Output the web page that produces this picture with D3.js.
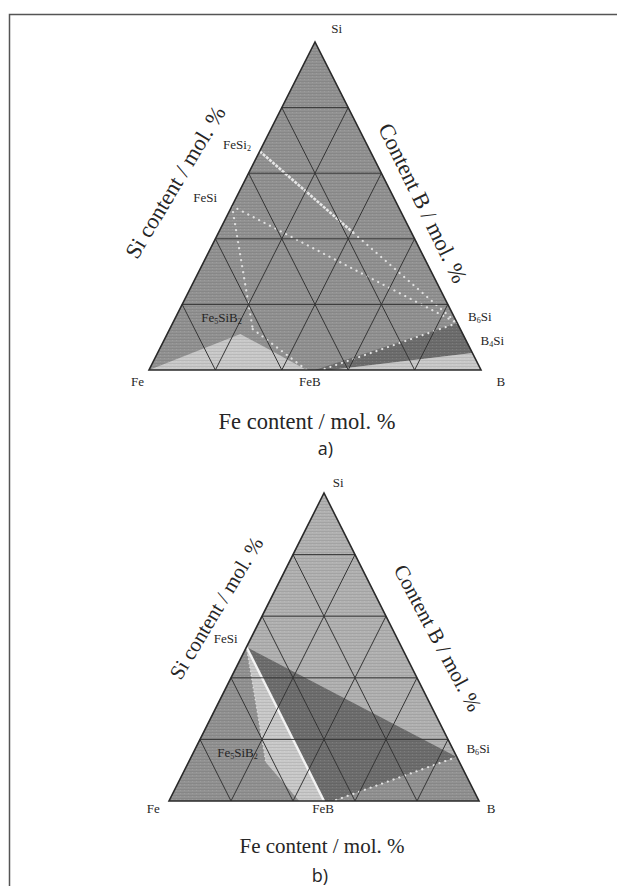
<!DOCTYPE html>
<html>
<head>
<meta charset="utf-8">
<script src="https://cdn.jsdelivr.net/npm/d3@7"></script>
<style>
  body { margin: 0; background: #fff; }
  text { font-family: "Liberation Serif", "DejaVu Serif", serif; fill: #262626; }
</style>
</head>
<body>
<svg id="drawing_region" width="617" height="886"></svg>
<script>
// ternary grid levels (mole fraction)
const gridLevels = [0.2, 0.4, 0.6, 0.8];

// every point is [B, Si] mole fraction, Fe = 1 - B - Si
// panel a) phase fields
const regionsA = [
  { shade: 'mid',   pts: [[0, 0], [1, 0], [0, 1]] },
  { shade: 'light', pts: [[0, 0], [0.22, 0.11], [0.475, 0]] },
  { shade: 'dark',  pts: [[0.50, 0], [0.857, 0.143], [0.948, 0.052], [0.545, 0]] },
  { shade: 'light', pts: [[0.545, 0], [1, 0], [0.948, 0.052]] }
];
// panel a) tie lines drawn as white dots
const tiesA = [
  { kind: 'dense',  pts: [[0, 0.667], [0.407, 0.418]] },
  { kind: 'dotted', pts: [[0.407, 0.418], [0.857, 0.143]] },
  { kind: 'dotted', pts: [[0, 0.5], [0.857, 0.143]] },
  { kind: 'dotted', pts: [[0, 0.5], [0.25, 0.125]] },
  { kind: 'dotted', pts: [[0.857, 0.143], [0.52, 0]] },
  { kind: 'dotted', pts: [[0.25, 0.125], [0.475, 0]] }
];
// panel a) labels, anchored where they sit in the picture
const labelsA = [
  { text: 'Si',        at: [0.052, 1.027] },
  { text: 'Fe',        at: [-0.01, -0.049] },
  { text: 'FeB',       at: [0.509, -0.049] },
  { text: 'B',         at: [1.084, -0.049] },
  { text: 'FeSi_2',    at: [-0.072, 0.674] },
  { text: 'FeSi',      at: [-0.087, 0.512] },
  { text: 'Fe_5SiB_2', at: [0.145, 0.147] },
  { text: 'B_6Si',     at: [0.922, 0.149] },
  { text: 'B_4Si',     at: [0.996, 0.076] }
];

// panel b) phase fields
const regionsB = [
  { shade: 'pale',  pts: [[0, 0], [1, 0], [0, 1]] },
  { shade: 'mid',   pts: [[0, 0], [0, 0.5], [0.25, 0.125], [0.5, 0]] },
  { shade: 'light', pts: [[0, 0.5], [0.25, 0.125], [0.42, 0], [0.5, 0]] },
  { shade: 'dark',  pts: [[0, 0.5], [0.857, 0.143], [0.53, 0], [0.5, 0]] },
  { shade: 'mid',   pts: [[0.53, 0], [0.857, 0.143], [1, 0]] }
];
const tiesB = [
  { kind: 'solid',  pts: [[0, 0.5], [0.5, 0]] },
  { kind: 'small',  pts: [[0, 0.5], [0.25, 0.125]] },
  { kind: 'dotted', pts: [[0.857, 0.143], [0.53, 0]] }
];
const labelsB = [
  { text: 'Si',        at: [0.036, 1.02] },
  { text: 'Fe',        at: [-0.031, -0.04] },
  { text: 'FeB',       at: [0.517, -0.04] },
  { text: 'B',         at: [1.059, -0.04] },
  { text: 'FeSi',      at: [-0.073, 0.512] },
  { text: 'Fe_5SiB_2', at: [0.149, 0.144] },
  { text: 'B_6Si',     at: [0.92, 0.155] }
];

const axisTitles = ['Fe content / mol. %', 'Si content / mol. %', 'Content B / mol. %'];

const shades = { pale: '#b1b1b1', light: '#c9c9c9', mid: '#929292', dark: '#6e6e6e' };

const svg = d3.select('#drawing_region');

// frame of the figure
svg.append('path')
  .attr('d', 'M9.5,886 V14.5 H617')
  .attr('fill', 'none')
  .attr('stroke', '#555')
  .attr('stroke-width', 1.5);

// fine horizontal scan texture of the original plot
const defs = svg.append('defs');
const pat = defs.append('pattern')
  .attr('id', 'scan')
  .attr('patternUnits', 'userSpaceOnUse')
  .attr('width', 4).attr('height', 3);
pat.append('rect').attr('width', 4).attr('height', 1).attr('fill', 'rgba(0,0,0,0.08)');
pat.append('rect').attr('y', 1).attr('width', 1).attr('height', 1).attr('fill', 'rgba(255,255,255,0.10)');

const tieStyles = {
  dense:  { w: 2.6, dash: '3,1.2', cap: 'butt', c: '#e6e6e6' },
  dotted: { w: 2.2, dash: '0.1,6', cap: 'round', c: '#e0e0e0' },
  small:  { w: 1.6, dash: '0.1,4', cap: 'round', c: '#d8d8d8' },
  solid:  { w: 2.4, dash: null, cap: 'butt', c: '#f2f2f2' }
};

class Ternary {
  constructor(config) {
    this.config = config;
    this.g = svg.append('g');
    this.xscale = d3.scaleLinear().domain([0, 1]).range(config.xrange);
    this.yscale = d3.scaleLinear().domain([0, 1]).range(config.yrange);
    this.line = d3.line()
      .x(d => this.xscale(d[0] + d[1] / 2))
      .y(d => this.yscale(d[1]));
  }
  px(p) { return [this.xscale(p[0] + p[1] / 2), this.yscale(p[1])]; }
  render(regions, ties, labels) {
    const g = this.g;
    const c = this.config;
    g.selectAll('path.region')
      .data(regions)
      .join('path')
      .attr('class', 'region')
      .attr('d', d => this.line(d.pts) + 'Z')
      .attr('fill', d => shades[d.shade]);

    g.append('path')
      .attr('d', this.line([[0, 0], [1, 0], [0, 1]]) + 'Z')
      .attr('fill', 'url(#scan)');

    // tie lines
    g.selectAll('path.tie')
      .data(ties)
      .join('path')
      .attr('class', 'tie')
      .attr('d', d => this.line(d.pts))
      .attr('fill', 'none')
      .attr('stroke', d => tieStyles[d.kind].c)
      .attr('stroke-width', d => tieStyles[d.kind].w)
      .attr('stroke-dasharray', d => tieStyles[d.kind].dash)
      .attr('stroke-linecap', d => tieStyles[d.kind].cap);

    // 20 % grid in the three directions
    const grid = [];
    gridLevels.forEach(t => {
      grid.push([[0, t], [1 - t, t]]);
      grid.push([[t, 0], [t, 1 - t]]);
      grid.push([[1 - t, 0], [0, 1 - t]]);
    });
    g.selectAll('path.grid')
      .data(grid)
      .join('path')
      .attr('class', 'grid')
      .attr('d', d => this.line(d))
      .attr('fill', 'none')
      .attr('stroke', '#353535')
      .attr('stroke-width', 1);

    g.append('path')
      .attr('d', this.line([[0, 0], [1, 0], [0, 1]]) + 'Z')
      .attr('fill', 'none')
      .attr('stroke', '#2a2a2a')
      .attr('stroke-width', 1.6);

    // labels of corners and compounds
    const fs = c.labelSize;
    const lab = g.selectAll('text.lab')
      .data(labels)
      .join('text')
      .attr('class', 'lab')
      .attr('x', d => this.px(d.at)[0])
      .attr('y', d => this.px(d.at)[1])
      .attr('dy', '0.35em')
      .attr('text-anchor', 'middle')
      .attr('font-size', fs);
    lab.each(function(d) {
      const parts = d.text.split(/_(\d)/);
      const t = d3.select(this);
      parts.forEach((s, i) => {
        if (!s) return;
        const sub = i % 2 === 1;
        t.append('tspan')
          .attr('font-size', sub ? fs * 0.62 : fs)
          .attr('dy', sub ? 2 : (i > 0 ? -2 : 0))
          .text(s);
      });
    });

    // axis titles
    g.append('text')
      .attr('x', c.bottomTitle[0]).attr('y', c.bottomTitle[1])
      .attr('text-anchor', 'middle')
      .attr('font-size', c.titleSize)
      .text(axisTitles[0]);
    g.append('text')
      .attr('transform', `translate(${c.leftTitle[0]},${c.leftTitle[1]}) rotate(${c.leftTitle[2]})`)
      .attr('dy', '0.35em')
      .attr('text-anchor', 'middle')
      .attr('font-size', c.titleSize)
      .text(axisTitles[1]);
    g.append('text')
      .attr('transform', `translate(${c.rightTitle[0]},${c.rightTitle[1]}) rotate(${c.rightTitle[2]})`)
      .attr('dy', '0.35em')
      .attr('text-anchor', 'middle')
      .attr('font-size', c.titleSize)
      .text(axisTitles[2]);
    g.append('text')
      .attr('x', c.caption[0]).attr('y', c.caption[1])
      .attr('text-anchor', 'middle')
      .attr('font-size', 18)
      .style('font-family', '"Open Sans", "Noto Sans", sans-serif')
      .text(c.captionText);
  }
}

const panelA = new Ternary({
  xrange: [149, 481], yrange: [370, 42],
  labelSize: 13, titleSize: 22.5,
  bottomTitle: [307, 429],
  leftTitle: [175, 182, -59],
  rightTitle: [423, 203, 64],
  caption: [325.5, 455], captionText: 'a)'
});
panelA.render(regionsA, tiesA, labelsA);

const panelB = new Ternary({
  xrange: [169, 479], yrange: [801, 493],
  labelSize: 13, titleSize: 21,
  bottomTitle: [322, 853],
  leftTitle: [216, 608, -59],
  rightTitle: [438, 638, 62],
  caption: [320, 882], captionText: 'b)'
});
panelB.render(regionsB, tiesB, labelsB);
</script>
</body>
</html>
